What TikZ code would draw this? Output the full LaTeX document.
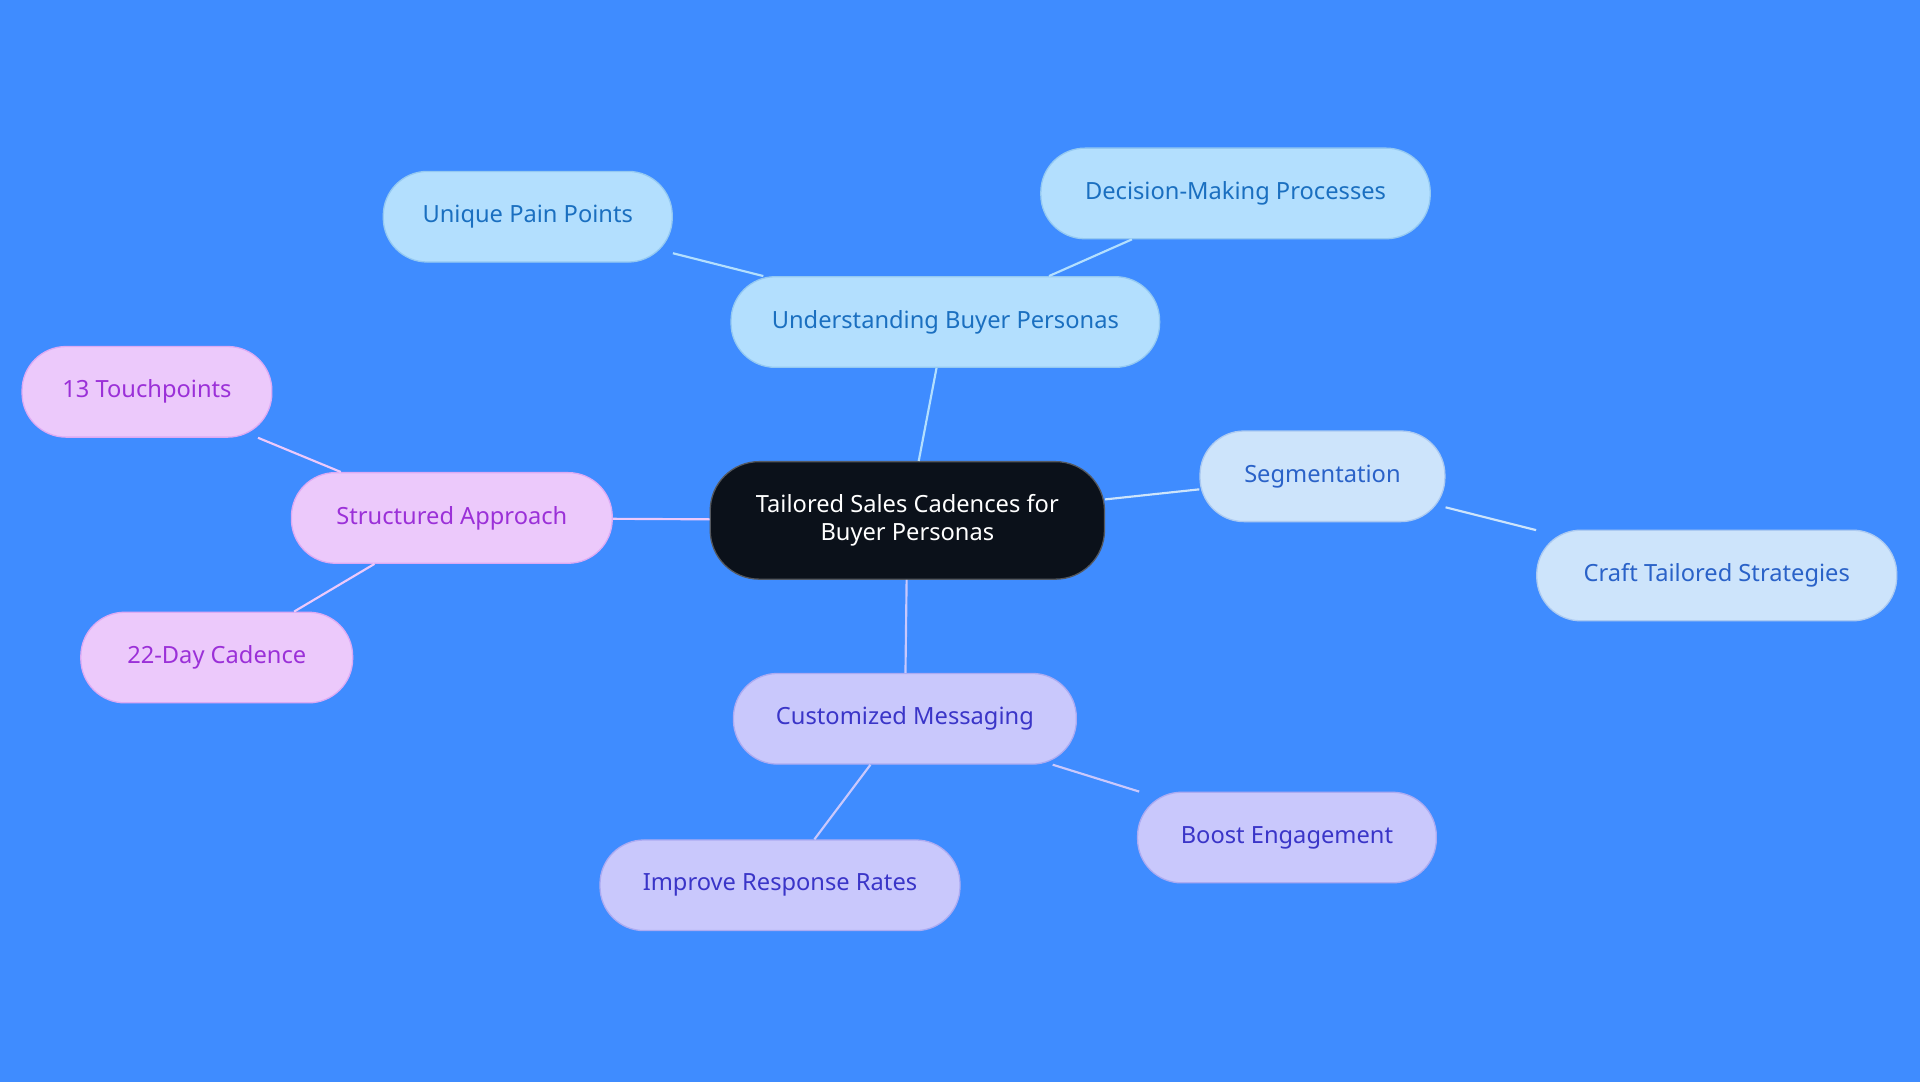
\documentclass[tikz,border=0pt]{standalone}
\usepackage{fontspec}
\setmainfont{Noto Sans}
\usepackage{xcolor}
\definecolor{vbg}{HTML}{3F8CFF}
\definecolor{vblack}{HTML}{0B111A}
\definecolor{vsky}{HTML}{B3DFFE}
\definecolor{vskytext}{HTML}{1A6FC0}
\definecolor{vpale}{HTML}{CDE4FB}
\definecolor{vpaletext}{HTML}{2A62C8}
\definecolor{vlav}{HTML}{C9C8FC}
\definecolor{vlavtext}{HTML}{3A35C8}
\definecolor{vpink}{HTML}{ECC9FB}
\definecolor{vpinktext}{HTML}{9B30D8}
\tikzset{
	leaf/.style={rounded corners=0.72cm, minimum height=1.48cm, align=center, font=\fontsize{11}{13}\selectfont, line width=0.6pt},
	sky/.style={leaf, fill=vsky, draw=vsky!80!vskytext, text=vskytext},
	pale/.style={leaf, fill=vpale, draw=vpale!80!vpaletext, text=vpaletext},
	lav/.style={leaf, fill=vlav, draw=vlav!80!vlavtext, text=vlavtext},
	pink/.style={leaf, fill=vpink, draw=vpink!80!vpinktext, text=vpinktext},
	link/.style={line width=1pt}
}
\begin{document}
\begin{tikzpicture}
		\fill[vbg] (0,0) rectangle (31.36,17.68);
		\useasboundingbox (0,0) rectangle (31.36,17.68);
		\node[leaf, fill=vblack, draw=vblack!70!white, text=white, minimum width=6.44cm, minimum height=1.92cm, rounded corners=0.8cm] (root) at (14.82,9.18) {Tailored Sales Cadences for\\Buyer Personas};
		\node[sky, minimum width=7cm] (ubp) at (15.44,12.42) {Understanding Buyer Personas};
		\node[sky, minimum width=4.72cm] (upp) at (8.62,14.14) {Unique Pain Points};
		\node[sky, minimum width=6.36cm] (dmp) at (20.18,14.52) {Decision-Making Processes};
		\node[pale, minimum width=4cm] (seg) at (21.6,9.9) {Segmentation};
		\node[pale, minimum width=5.88cm] (cts) at (28.04,8.28) {Craft Tailored Strategies};
		\node[lav, minimum width=5.6cm] (cm) at (14.78,5.94) {Customized Messaging};
		\node[lav, minimum width=5.88cm] (irr) at (12.74,3.22) {Improve Response Rates};
		\node[lav, minimum width=4.88cm] (be) at (21.02,4.0) {Boost Engagement};
		\node[pink, minimum width=5.24cm] (sa) at (7.38,9.22) {Structured Approach};
		\node[pink, minimum width=4.08cm] (tp) at (2.4,11.28) {13 Touchpoints};
		\node[pink, minimum width=4.44cm] (dc) at (3.54,6.94) {22-Day Cadence};
		\draw[link, color=vsky] (root) -- (ubp);
		\draw[link, color=vsky] (ubp) -- (upp);
		\draw[link, color=vsky] (ubp) -- (dmp);
		\draw[link, color=vpale] (root) -- (seg);
		\draw[link, color=vpale] (seg) -- (cts);
		\draw[link, color=vlav] (root) -- (cm);
		\draw[link, color=vlav] (cm) -- (irr);
		\draw[link, color=vlav] (cm) -- (be);
		\draw[link, color=vpink] (root) -- (sa);
		\draw[link, color=vpink] (sa) -- (tp);
		\draw[link, color=vpink] (sa) -- (dc);
	\end{tikzpicture}
\end{document}
